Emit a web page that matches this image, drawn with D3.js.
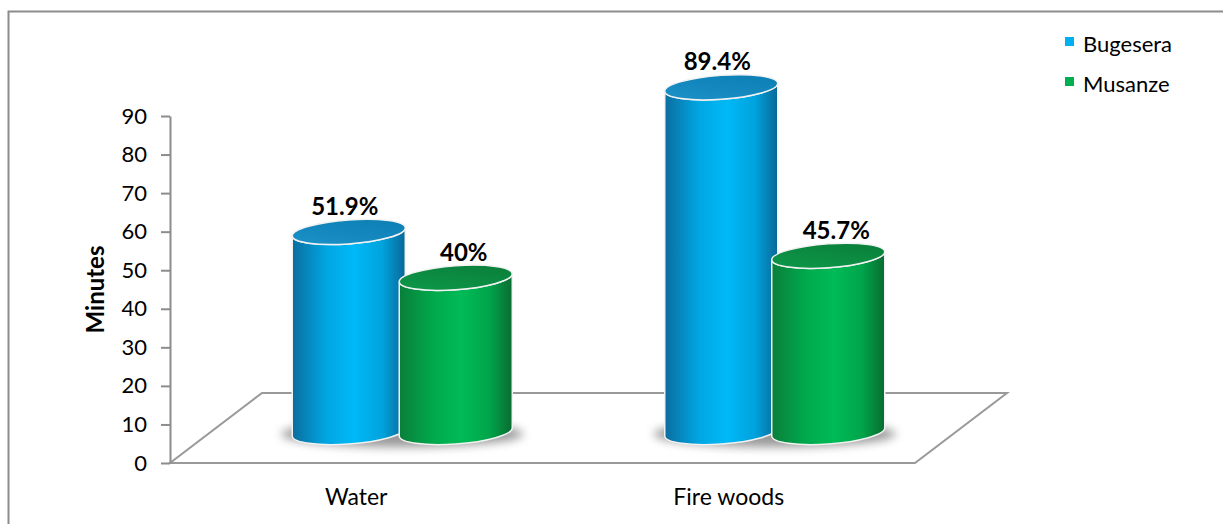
<!DOCTYPE html>
<html>
<head>
<meta charset="utf-8">
<script src="https://cdn.jsdelivr.net/npm/d3@7"></script>
<style>
  html, body { margin: 0; padding: 0; background: #fff; }
  svg { display: block; font-family: Lato, "Open Sans", sans-serif; }
</style>
</head>
<body>
<svg width="1223" height="524"></svg>
<script>
// chart data
const categories = ['Water', 'Fire woods'];
const series = ['Bugesera', 'Musanze'];
const bugesera = [51.9, 89.4];
const musanze = [40, 45.7];
const valueLabels = [['51.9%', '89.4%'], ['40%', '45.7%']];
const yTicks = [0, 10, 20, 30, 40, 50, 60, 70, 80, 90];
const seriesColors = ['#00b0f0', '#00b050'];

const svg = d3.select('svg');

// outer frame
svg.append('rect')
  .attr('x', 8.5).attr('y', 11.5)
  .attr('width', 1400).attr('height', 700)
  .attr('fill', 'none').attr('stroke', '#8c8c8c').attr('stroke-width', 2);

const plotLeft = 170, plotRight = 915, plotBottom = 463, plotTop = 116;
const depthX = 92, depthY = 70;      // floor depth
const midX = 46, midY = 31;          // bars sit in the middle of the depth

const y = d3.scaleLinear().domain([0, 90]).range([plotBottom, plotTop]);
const x0 = d3.scaleBand().domain(categories).range([plotLeft, plotRight]);
const groupW = 214;
const x1 = d3.scaleBand().domain(series).range([-groupW / 2, groupW / 2]);
const barW = x1.bandwidth() + 6;
const rx = barW / 2, ry = 12;

const defs = svg.append('defs');
const bodyStops = [
  ['#0b6d9f', '#00a6e2', '#00b9f7', '#00a2dc', '#0a6797'],
  ['#0a7f3a', '#00a94c', '#00bb57', '#00a44a', '#0a6b31']
];
const topStops = [['#1d93c9', '#0a7cb2'], ['#0d9a4a', '#0a7c39']];
series.forEach((s, i) => {
  const g = defs.append('linearGradient').attr('id', 'body' + i)
    .attr('x1', 0).attr('x2', 1).attr('y1', 0).attr('y2', 0);
  [0, 0.3, 0.55, 0.8, 1].forEach((o, k) => {
    g.append('stop').attr('offset', o).attr('stop-color', bodyStops[i][k]);
  });
  const t = defs.append('linearGradient').attr('id', 'top' + i)
    .attr('x1', 0).attr('x2', 1).attr('y1', 1).attr('y2', 0);
  t.append('stop').attr('offset', 0).attr('stop-color', topStops[i][0]);
  t.append('stop').attr('offset', 1).attr('stop-color', topStops[i][1]);
});
defs.append('filter').attr('id', 'blur')
  .attr('x', '-50%').attr('y', '-100%').attr('width', '200%').attr('height', '300%')
  .append('feGaussianBlur').attr('stdDeviation', 5);

// floor
const floor = d3.path();
floor.moveTo(plotLeft, plotBottom);
floor.lineTo(plotRight, plotBottom);
floor.lineTo(plotRight + depthX, plotBottom - depthY);
floor.lineTo(plotLeft + depthX, plotBottom - depthY);
floor.closePath();
svg.append('path').attr('d', floor.toString())
  .attr('fill', '#fff').attr('stroke', '#999').attr('stroke-width', 2);

// y axis
const yAxis = svg.append('g')
  .attr('transform', `translate(${plotLeft},0)`)
  .call(d3.axisLeft(y).tickValues(yTicks).tickSize(9).tickSizeOuter(0).tickPadding(14));
yAxis.select('.domain').attr('stroke', '#8c8c8c').attr('stroke-width', 2);
yAxis.selectAll('.tick line').attr('stroke', '#8c8c8c').attr('stroke-width', 2);
yAxis.selectAll('.tick text')
  .attr('font-size', 22).attr('font-family', 'Lato, sans-serif').attr('fill', '#000');

svg.append('text')
  .attr('transform', `translate(104,${(plotTop + plotBottom) / 2}) rotate(-90)`)
  .attr('text-anchor', 'middle')
  .attr('font-size', 24).attr('font-weight', 'bold')
  .text('Minutes');

// category labels
svg.append('g').selectAll('text')
  .data(categories)
  .join('text')
  .attr('x', (d) => x0(d) + x0.bandwidth() / 2)
  .attr('y', 505)
  .attr('text-anchor', 'middle')
  .attr('font-size', 23)
  .text((d) => d);

// bars
const bars = [];
categories.forEach((c, ci) => {
  [bugesera, musanze].forEach((vals, si) => {
    bars.push({ cat: c, s: si, value: vals[ci], label: valueLabels[si][ci] });
  });
});

const base = plotBottom - midY;
const barX = (d) => x0(d.cat) + x0.bandwidth() / 2 + midX + x1(series[d.s]) + x1.bandwidth() / 2;

// shadows under each group
svg.append('g').selectAll('ellipse')
  .data(categories)
  .join('ellipse')
  .attr('cx', (d) => x0(d) + x0.bandwidth() / 2 + midX)
  .attr('cy', base + 2)
  .attr('rx', groupW / 2 + 14)
  .attr('ry', 13)
  .attr('fill', '#6e6e6e')
  .attr('opacity', 0.7)
  .attr('filter', 'url(#blur)');

const skew = -4;
const cyl = svg.append('g').selectAll('g')
  .data(bars)
  .join('g')
  .attr('transform', (d) => `translate(${barX(d)},0) skewY(${skew})`);

cyl.append('path')
  .attr('d', (d) => {
    const t = y(d.value) - midY;
    return `M${-rx},${t} L${-rx},${base} A${rx},${ry} 0 0 0 ${rx},${base} ` +
      `L${rx},${t} A${rx},${ry} 0 0 1 ${-rx},${t} Z`;
  })
  .attr('fill', (d) => `url(#body${d.s})`)
  .attr('stroke', '#f2f2f2').attr('stroke-width', 1.5);

cyl.append('ellipse')
  .attr('cx', 0)
  .attr('cy', (d) => y(d.value) - midY)
  .attr('rx', rx).attr('ry', ry)
  .attr('fill', (d) => `url(#top${d.s})`)
  .attr('stroke', '#f2f2f2').attr('stroke-width', 1.5);

// value labels
svg.append('g').selectAll('text')
  .data(bars)
  .join('text')
  .attr('x', (d) => barX(d) + (d.s === 1 ? 8 : -4))
  .attr('y', (d) => y(d.value) - midY - ry - 5)
  .attr('text-anchor', 'middle')
  .attr('font-size', 24).attr('font-weight', 'bold')
  .text((d) => d.label);

// legend
const legend = svg.append('g').selectAll('g')
  .data(series)
  .join('g')
  .attr('transform', (d, i) => `translate(1065,${37 + i * 40})`);
legend.append('rect')
  .attr('width', 9).attr('height', 9)
  .attr('fill', (d, i) => seriesColors[i]);
legend.append('text')
  .attr('x', 18).attr('y', 15)
  .attr('font-size', 22)
  .text((d) => d);
</script>
</body>
</html>
